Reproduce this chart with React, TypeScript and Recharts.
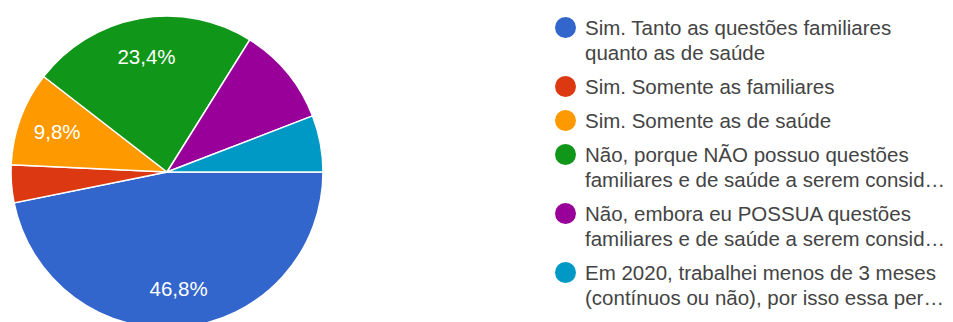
import React from 'react';
import { PieChart, Pie, Cell, Legend } from 'recharts';

const categoryLines: string[][] = [
  ['Sim. Tanto as questões familiares', 'quanto as de saúde'],
  ['Sim. Somente as familiares'],
  ['Sim. Somente as de saúde'],
  ['Não, porque NÃO possuo questões', 'familiares e de saúde a serem consid…'],
  ['Não, embora eu POSSUA questões', 'familiares e de saúde a serem consid…'],
  ['Em 2020, trabalhei menos de 3 meses', '(contínuos ou não), por isso essa per…'],
];
const responses = [96, 8, 20, 48, 21, 12];
const sliceColors = ['#3366cc', '#dc3912', '#ff9900', '#109618', '#990099', '#0099c6'];
const showPercent = [true, false, true, true, false, false];

const data = categoryLines.map((lines, i) => ({ name: lines.join(' '), value: responses[i] }));

const FONT = '"Liberation Sans", Arial, sans-serif';
const RAD = Math.PI / 180;

const renderLabel = (props: any) => {
  const { cx, cy, midAngle, outerRadius, percent, index } = props;
  if (!showPercent[index]) return null;
  const r = outerRadius * 0.75;
  const x = cx + r * Math.cos(-midAngle * RAD);
  const y = cy + r * Math.sin(-midAngle * RAD);
  return (
    <text
      x={x}
      y={y}
      fill="#ffffff"
      textAnchor="middle"
      dominantBaseline="central"
      fontSize={20.5}
      fontFamily={FONT}
    >
      {(percent * 100).toFixed(1).replace('.', ',')}%
    </text>
  );
};

const renderLegend = () => (
  <div style={{ fontFamily: FONT, fontSize: 20.5, color: '#444', lineHeight: '25px' }}>
    {categoryLines.map((lines, i) => (
      <div key={i} style={{ display: 'flex', alignItems: 'flex-start', marginBottom: 9 }}>
        <div
          style={{
            width: 21,
            height: 21,
            borderRadius: '50%',
            background: sliceColors[i],
            marginTop: 2,
            marginRight: 9,
            flexShrink: 0,
          }}
        />
        <div style={{ whiteSpace: 'nowrap' }}>
          {lines.map((l, j) => (
            <div key={j}>{l}</div>
          ))}
        </div>
      </div>
    ))}
  </div>
);

export default function App() {
  return (
    <div style={{ width: 953, height: 322, position: 'relative', background: '#fff' }}>
      <style>{`body{margin:0;}`}</style>
      <PieChart width={953} height={322} margin={{ top: 0, right: 0, bottom: 0, left: 0 }}>
        <Pie
          data={data}
          dataKey="value"
          nameKey="name"
          cx={167}
          cy={172}
          outerRadius={156}
          startAngle={0}
          endAngle={-360}
          stroke="#ffffff"
          strokeWidth={1.5}
          label={renderLabel}
          labelLine={false}
          isAnimationActive={false}
        >
          {data.map((d, i) => (
            <Cell key={d.name} fill={sliceColors[i]} />
          ))}
        </Pie>
        <Legend
          layout="vertical"
          align="right"
          verticalAlign="top"
          content={renderLegend}
          wrapperStyle={{ position: 'absolute', left: 555, top: 15, width: 398 }}
        />
      </PieChart>
    </div>
  );
}
